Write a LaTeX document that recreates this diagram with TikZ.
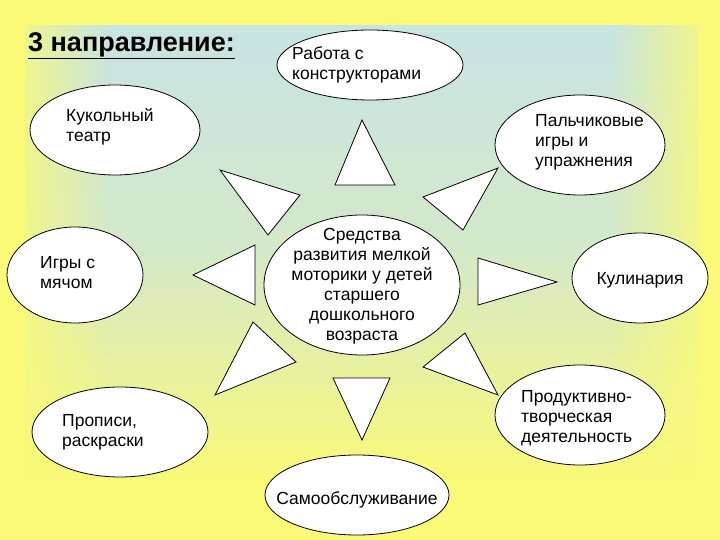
\documentclass[tikz,border=0pt]{standalone}
\usepackage{fontspec}
\setmainfont{Liberation Sans}
\usetikzlibrary{shapes.geometric,fadings}
\definecolor{bgy}{RGB}{250,250,120}
\definecolor{bgb}{RGB}{200,228,228}
\tikzfading[name=vf,top color=transparent!0,bottom color=transparent!100,middle color=transparent!25]
\tikzfading[name=lf,left color=transparent!0,right color=transparent!100]
\tikzfading[name=rf,left color=transparent!100,right color=transparent!0]
\begin{document}
\begin{tikzpicture}[x=1pt,y=-1pt,
  ell/.style={ellipse,draw,fill=white,line width=0.8pt,inner sep=0pt},
  txt/.style={font=\fontsize{17.5}{20}\selectfont,align=left,inner sep=0pt},
  tri/.style={draw,fill=white,line width=0.8pt}]
\useasboundingbox (0,0) rectangle (720,540);
\fill[bgy] (0,0) rectangle (720,540);
\fill[bgb,path fading=vf] (25,25) rectangle (700,480);
\fill[bgy,path fading=lf] (0,0) rectangle (110,540);
\fill[bgy,path fading=rf] (610,0) rectangle (720,540);
\node[font=\fontsize{27}{29}\selectfont\bfseries,anchor=west,inner sep=0pt] (title) at (28,46) {\underline{3 направление:}};
\node[ell,minimum width=186,minimum height=70] (a) at (370,65) {};
\node[txt,anchor=west] at (292,65) {Работа с\\конструкторами};
\node[ell,minimum width=170,minimum height=90] (b) at (115,130) {};
\node[txt,anchor=north west] at (66,108) {Кукольный\\театр};
\node[ell,minimum width=170,minimum height=100] (c) at (580,145) {};
\node[txt,anchor=north west] at (535,114) {Пальчиковые\\игры и\\упражнения};
\node[ell,minimum width=196,minimum height=140] (m) at (362,285) {};
\node[txt,align=center] at (362,286) {Средства\\развития мелкой\\моторики у детей\\старшего\\дошкольного\\возраста};
\node[ell,minimum width=136,minimum height=96] (d) at (75,275) {};
\node[txt,anchor=north west] at (40,256) {Игры с\\мячом};
\node[ell,minimum width=136,minimum height=90] (e) at (640,278) {};
\node[txt] at (640,280) {Кулинария};
\node[ell,minimum width=176,minimum height=90] (f) at (120,432) {};
\node[txt,anchor=north west] at (62,414) {Прописи,\\раскраски};
\node[ell,minimum width=170,minimum height=100] (g) at (580,415) {};
\node[txt,anchor=north west] at (521,390) {Продуктивно-\\творческая\\деятельность};
\node[ell,minimum width=184,minimum height=80] (h) at (357,495) {};
\node[txt] at (357,500) {Самообслуживание};
\draw[tri] (362,120) -- (335,185) -- (395,185) -- cycle;
\draw[tri] (498,168) -- (423,197) -- (463,230) -- cycle;
\draw[tri] (478,258) -- (478,305) -- (557,282) -- cycle;
\draw[tri] (423,367) -- (465,333) -- (498,395) -- cycle;
\draw[tri] (333,378) -- (390,378) -- (362,440) -- cycle;
\draw[tri] (253,322) -- (296,362) -- (215,395) -- cycle;
\draw[tri] (193,275) -- (255,245) -- (255,305) -- cycle;
\draw[tri] (220,170) -- (300,195) -- (268,235) -- cycle;
\end{tikzpicture}
\end{document}
